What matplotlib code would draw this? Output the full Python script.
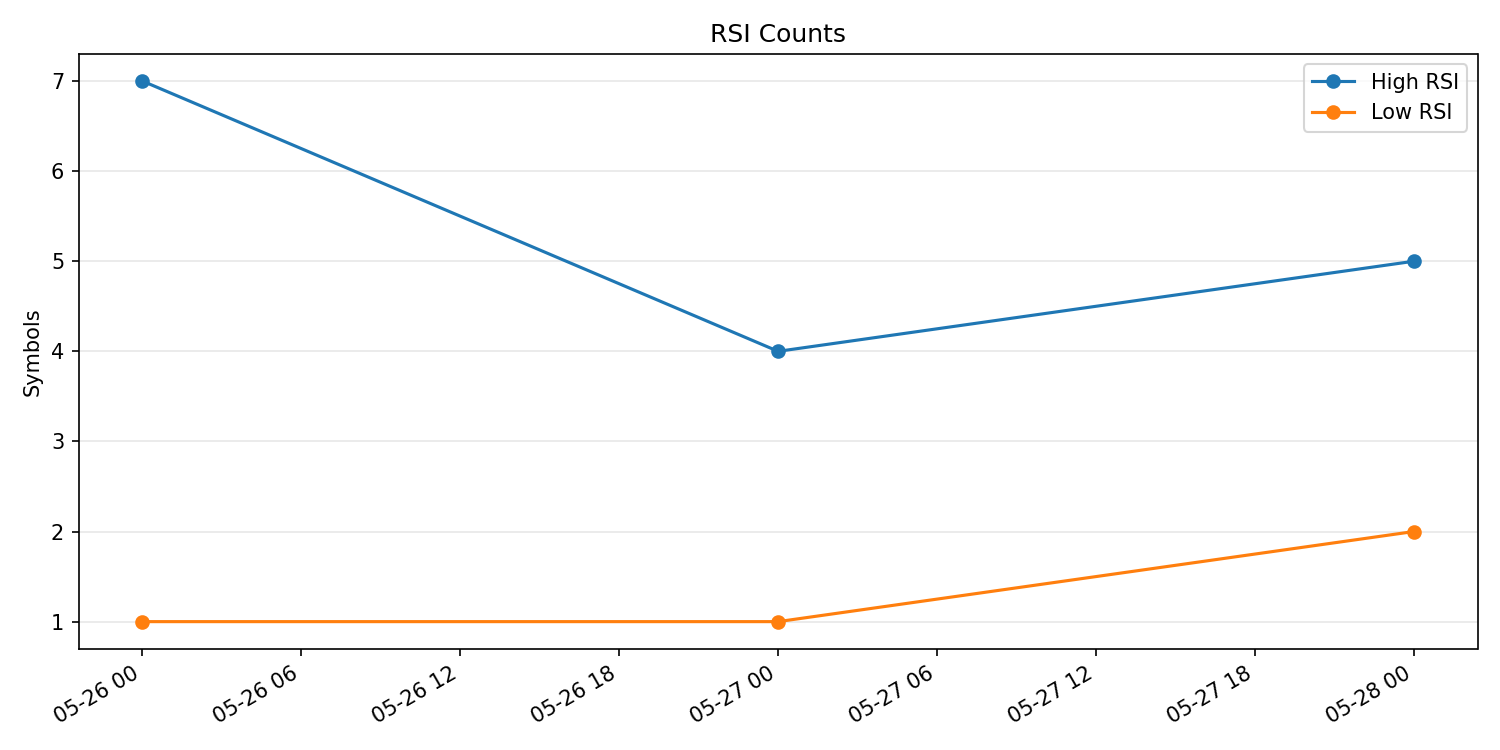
import matplotlib
matplotlib.use("Agg")
import matplotlib.pyplot as plt
import matplotlib.dates as mdates
import pandas as pd

dates = pd.to_datetime(["2025-05-26", "2025-05-27", "2025-05-28"])
high_rsi = [7, 4, 5]
low_rsi = [1, 1, 2]

fig, ax = plt.subplots(figsize=(10, 5), dpi=150)
ax.plot(dates, high_rsi, marker="o", label="High RSI")
ax.plot(dates, low_rsi, marker="o", label="Low RSI")
ax.set_title("RSI Counts")
ax.set_ylabel("Symbols")
ax.grid(axis="y", alpha=0.3)
ax.xaxis.set_major_locator(mdates.HourLocator(byhour=[0, 6, 12, 18]))
ax.xaxis.set_major_formatter(mdates.DateFormatter("%m-%d %H"))
ax.legend()
fig.autofmt_xdate()
fig.tight_layout()
fig.savefig("out.png")
